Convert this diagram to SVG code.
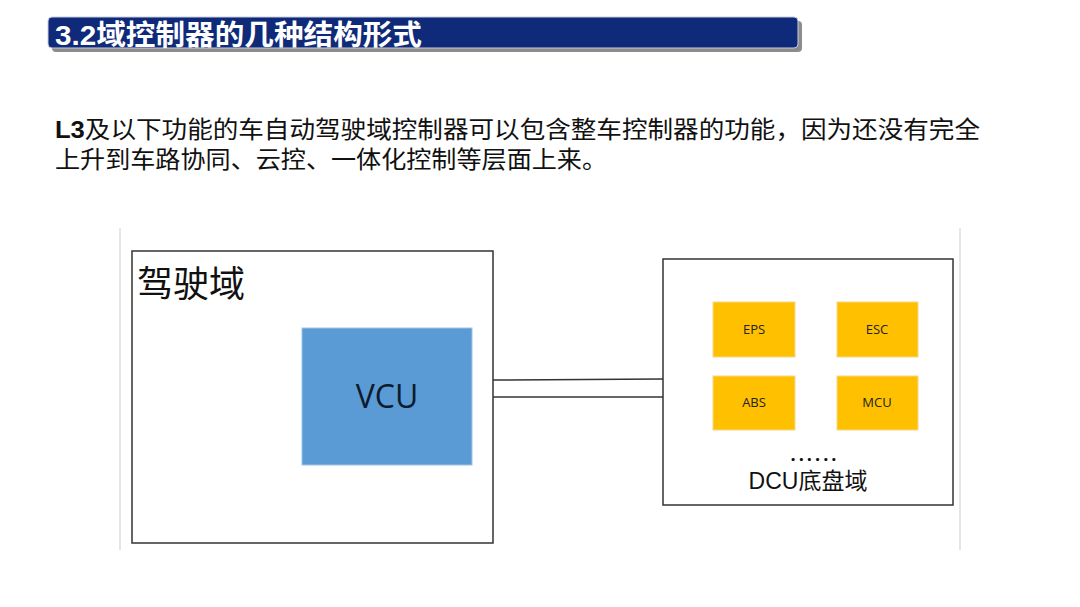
<svg xmlns="http://www.w3.org/2000/svg" width="1080" height="607" viewBox="0 0 1080 607">
<style>
.cjk{font-family:"Liberation Sans","Noto Sans CJK SC",sans-serif}
.box{fill:#fff;stroke:#333;stroke-width:1.5}
.ecu{fill:#ffc000;stroke:#f5d78a;stroke-width:1}
.ecut{font-family:"Open Sans","Noto Sans CJK SC",sans-serif;font-size:13px;fill:#222;text-anchor:middle}
.conn{stroke:#333;stroke-width:1.5;fill:none}
</style>
<rect width="1080" height="607" fill="#fff"/>
<g id="title">
<rect x="52" y="21" width="750" height="31" rx="4" fill="#8c8c8c"/>
<rect x="48" y="17" width="750" height="31" rx="4" fill="#0f2a78" stroke="#c8cde0" stroke-width="1"/>
<text x="55" y="45" class="cjk" font-size="28" font-weight="bold" fill="#fff" textLength="367" lengthAdjust="spacingAndGlyphs">3.2域控制器的几种结构形式</text>
</g>
<g id="paragraph" class="cjk" font-size="24" fill="#111">
<text x="55" y="138" textLength="925" lengthAdjust="spacingAndGlyphs"><tspan font-weight="bold">L3</tspan>及以下功能的车自动驾驶域控制器可以包含整车控制器的功能，因为还没有完全</text>
<text x="55" y="168" textLength="552" lengthAdjust="spacingAndGlyphs">上升到车路协同、云控、一体化控制等层面上来。</text>
</g>
<g id="frame" stroke="#e6e6e6" stroke-width="2">
<line x1="120" y1="228" x2="120" y2="550"/>
<line x1="960" y1="228" x2="960" y2="550"/>
</g>
<g id="connectors">
<line class="conn" x1="493" y1="380" x2="663" y2="379"/>
<line class="conn" x1="493" y1="397" x2="663" y2="397"/>
</g>
<g id="drive-domain">
<rect class="box" x="132" y="251" width="361" height="292"/>
<text x="137" y="297" class="cjk" font-size="36" fill="#111">驾驶域</text>
</g>
<g id="vcu">
<rect x="302" y="328" width="170" height="137" fill="#5b9bd5" stroke="#9ec3e6" stroke-width="1"/>
<text x="387" y="408" font-family="Open Sans,sans-serif" font-size="32" fill="#0d1b2e" text-anchor="middle">VCU</text>
</g>
<g id="chassis-domain">
<rect class="box" x="663" y="259" width="290" height="246"/>
<text x="815" y="461" font-family="Open Sans,sans-serif" font-size="18" font-weight="bold" fill="#111" text-anchor="middle" letter-spacing="3">......</text>
<text x="808" y="489" class="cjk" font-size="23" fill="#111" text-anchor="middle">DCU底盘域</text>
</g>
<g id="eps"><rect class="ecu" x="713" y="302" width="82" height="55"/><text class="ecut" x="754" y="334">EPS</text></g>
<g id="esc"><rect class="ecu" x="837" y="302" width="81" height="55"/><text class="ecut" x="877" y="334">ESC</text></g>
<g id="abs"><rect class="ecu" x="713" y="376" width="82" height="54"/><text class="ecut" x="754" y="407">ABS</text></g>
<g id="mcu"><rect class="ecu" x="837" y="376" width="81" height="54"/><text class="ecut" x="877" y="407">MCU</text></g>
</svg>
